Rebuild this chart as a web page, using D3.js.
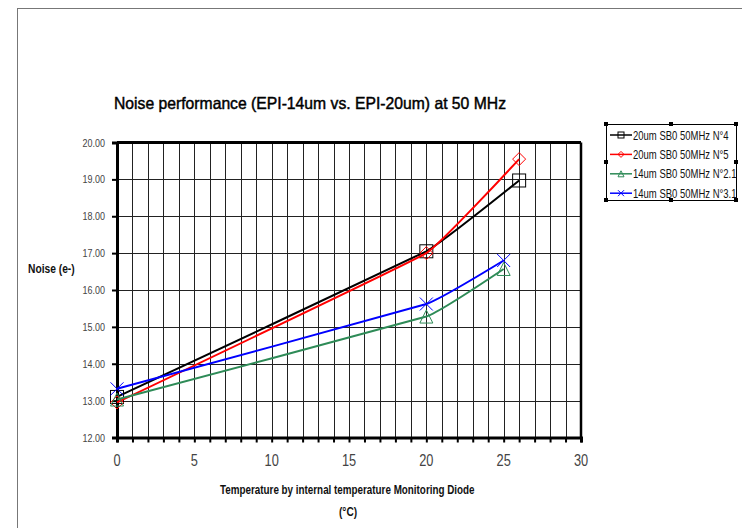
<!DOCTYPE html>
<html lang="en">
<head>
<meta charset="UTF-8"/>
<title>Noise performance</title>
<script src="https://d3js.org/d3.v7.min.js"></script>
<style>
  body { margin: 0; background: #fff; }
  svg { display: block; }
  .narrow { font-family: "Liberation Sans", Arial, sans-serif; }
</style>
</head>
<body>
<div id="chart"></div>
<script>
// temperatures (x) and noise values (e-) per series
var temps20 = [0, 20, 26];
var temps14 = [0, 20, 25];
var n20_4  = [13.1, 17.05, 18.97];
var n20_5  = [12.95, 17.0, 19.55];
var n14_21 = [13.03, 15.28, 16.57];
var n14_31 = [13.32, 15.62, 16.8];

var seriesNames = ["20um SB0 50MHz N°4", "20um SB0 50MHz N°5", "14um SB0 50MHz N°2.1", "14um SB0 50MHz N°3.1"];
var seriesColors = ["#000000", "#ff0000", "#2e8b57", "#0000ff"];
var seriesMarkers = ["square", "diamond", "triangle", "cross"];

var yTicks = [12, 13, 14, 15, 16, 17, 18, 19, 20];
var xTicks = [0, 5, 10, 15, 20, 25, 30];

var series = [
  { name: seriesNames[0], x: temps20, y: n20_4,  color: seriesColors[0], marker: seriesMarkers[0] },
  { name: seriesNames[1], x: temps20, y: n20_5,  color: seriesColors[1], marker: seriesMarkers[1] },
  { name: seriesNames[2], x: temps14, y: n14_21, color: seriesColors[2], marker: seriesMarkers[2] },
  { name: seriesNames[3], x: temps14, y: n14_31, color: seriesColors[3], marker: seriesMarkers[3] }
];

var W = 742, H = 528;
var svg = d3.select("#chart").append("svg").attr("width", W).attr("height", H);

// condensed text: the original uses a narrow font, so squeeze Liberation Sans horizontally
function narrowText(parent, x, y, str, size, sx, opts) {
  opts = opts || {};
  return parent.append("text").attr("class", "narrow")
    .attr("transform", "translate(" + x + "," + y + ") scale(" + sx + ",1)")
    .attr("font-size", size)
    .attr("font-weight", opts.weight || "normal")
    .attr("text-anchor", opts.anchor || "start")
    .attr("fill", opts.fill || "#111")
    .text(str);
}

// outer chart frame
svg.append("rect").attr("x", 17.5).attr("y", 8.5).attr("width", 740).attr("height", 540)
  .attr("fill", "none").attr("stroke", "#777").attr("stroke-width", 1);

var xScale = d3.scaleLinear().domain([0, 30]).range([117, 581]);
var yScale = d3.scaleLinear().domain([12, 20]).range([437.5, 142.5]);

// grid
var g = svg.append("g");
g.selectAll(".vg").data(d3.range(1, 30)).enter().append("line")
  .attr("x1", function(d){ return Math.round(xScale(d)) + 0.5; })
  .attr("x2", function(d){ return Math.round(xScale(d)) + 0.5; })
  .attr("y1", yScale(20)).attr("y2", yScale(12))
  .attr("stroke", "#222").attr("stroke-width", 1);
g.selectAll(".hg").data(d3.range(13, 20)).enter().append("line")
  .attr("x1", xScale(0)).attr("x2", xScale(30))
  .attr("y1", function(d){ return Math.round(yScale(d)) + 0.5; })
  .attr("y2", function(d){ return Math.round(yScale(d)) + 0.5; })
  .attr("stroke", "#222").attr("stroke-width", 1);

// plot borders
g.append("line").attr("x1", xScale(0)).attr("x2", xScale(30)).attr("y1", yScale(20)).attr("y2", yScale(20))
  .attr("stroke", "#000").attr("stroke-width", 3);
g.append("line").attr("x1", xScale(30)).attr("x2", xScale(30)).attr("y1", yScale(20)).attr("y2", yScale(12))
  .attr("stroke", "#000").attr("stroke-width", 2.5);

// axes
var xAxis = d3.axisBottom(xScale).tickValues(d3.range(0, 31)).tickSize(5).tickFormat("");
var yAxis = d3.axisLeft(yScale).tickValues(yTicks).tickSize(5).tickFormat("");
var xg = svg.append("g").attr("transform", "translate(0," + yScale(12) + ")").call(xAxis);
var yg = svg.append("g").attr("transform", "translate(" + xScale(0) + ",0)").call(yAxis);
[xg, yg].forEach(function(a){
  a.select(".domain").attr("stroke", "#000").attr("stroke-width", 3);
  a.selectAll(".tick line").attr("stroke", "#000").attr("stroke-width", 2);
});

yTicks.forEach(function(d) {
  narrowText(svg, 105, yScale(d) + 4, d.toFixed(2), 11.5, 0.78, { anchor: "end", fill: "#444" });
});
xTicks.forEach(function(d) {
  narrowText(svg, xScale(d), 466, String(d), 16, 0.8, { anchor: "middle", fill: "#444" });
});

// titles
svg.append("text").attr("x", 114).attr("y", 109)
  .attr("font-family", "Liberation Sans, Arial, sans-serif").attr("font-size", 16.5)
  .attr("textLength", 392).attr("lengthAdjust", "spacingAndGlyphs")
  .attr("fill", "#000").attr("stroke", "#000").attr("stroke-width", 0.45)
  .text("Noise performance (EPI-14um vs. EPI-20um) at 50 MHz");

narrowText(svg, 28, 273, "Noise (e-)", 12.5, 0.82, { weight: "bold" });
narrowText(svg, 220, 494, "Temperature by internal temperature Monitoring Diode", 13.5, 0.73, { weight: "bold" });
narrowText(svg, 339, 516, "(°C)", 13.5, 0.75, { weight: "bold" });

// markers
function drawMarker(sel, type, color, size) {
  var s = size;
  if (type === "square") {
    sel.append("rect").attr("x", -s).attr("y", -s).attr("width", 2 * s).attr("height", 2 * s)
      .attr("fill", "none").attr("stroke", color).attr("stroke-width", 1);
  } else if (type === "diamond") {
    sel.append("path").attr("d", "M0," + (-s) + "L" + s + ",0L0," + s + "L" + (-s) + ",0Z")
      .attr("fill", "none").attr("stroke", color).attr("stroke-width", 1);
  } else if (type === "triangle") {
    sel.append("path").attr("d", "M0," + (-s) + "L" + s + "," + s + "L" + (-s) + "," + s + "Z")
      .attr("fill", "none").attr("stroke", color).attr("stroke-width", 1);
  } else {
    sel.append("path").attr("d", "M" + (-s) + "," + (-s) + "L" + s + "," + s + "M" + (-s) + "," + s + "L" + s + "," + (-s))
      .attr("fill", "none").attr("stroke", color).attr("stroke-width", 1);
  }
}

var line = d3.line()
  .x(function(d){ return xScale(d[0]); })
  .y(function(d){ return yScale(d[1]); })
  .curve(d3.curveCardinal.tension(0.8));

series.forEach(function(s) {
  var pts = s.x.map(function(x, i){ return [x, s.y[i]]; });
  svg.append("path").datum(pts).attr("d", line)
    .attr("fill", "none").attr("stroke", s.color).attr("stroke-width", 2);
  pts.forEach(function(p) {
    var m = svg.append("g").attr("transform", "translate(" + xScale(p[0]) + "," + yScale(p[1]) + ")");
    drawMarker(m, s.marker, s.color, 6.5);
  });
});

// legend
var leg = svg.append("g");
leg.append("rect").attr("x", 606.5).attr("y", 124.5).attr("width", 130).attr("height", 76)
  .attr("fill", "#fff").attr("stroke", "#000").attr("stroke-width", 1);
var handles = [[606, 124], [671, 124], [736, 124], [606, 162], [736, 162], [606, 200], [671, 200], [736, 200]];
handles.forEach(function(h) {
  leg.append("rect").attr("x", h[0] - 2).attr("y", h[1] - 2).attr("width", 4).attr("height", 4)
    .attr("fill", "#000");
});
series.forEach(function(s, i) {
  var y = 135 + i * 19.4;
  leg.append("line").attr("x1", 610).attr("x2", 632).attr("y1", y).attr("y2", y)
    .attr("stroke", s.color).attr("stroke-width", 1.5);
  var m = leg.append("g").attr("transform", "translate(621," + y + ")");
  drawMarker(m, s.marker, s.color, 3);
  narrowText(leg, 633, y + 4.5, s.name, 12.5, 0.76, { fill: "#111" });
});
</script>
</body>
</html>
